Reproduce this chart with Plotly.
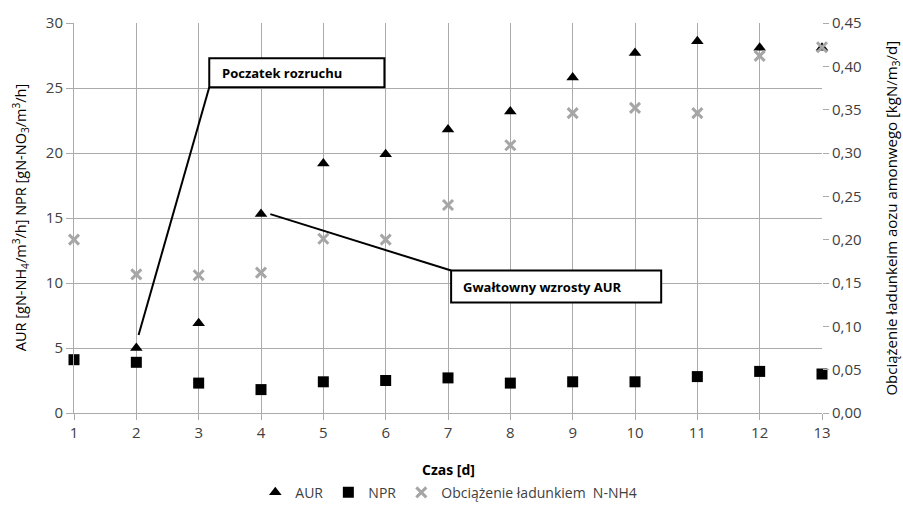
import plotly.graph_objects as go

# Dni pomiaru
dni = [1, 2, 3, 4, 5, 6, 7, 8, 9, 10, 11, 12, 13]
# AUR [gN-NH4/m3/h]
aur = [None, 5.0, 6.9, 15.3, 19.2, 19.9, 21.8, 23.2, 25.8, 27.7, 28.6, 28.1, 28.1]
# NPR [gN-NO3/m3/h]
npr = [4.1, 3.9, 2.3, 1.8, 2.4, 2.5, 2.7, 2.3, 2.4, 2.4, 2.8, 3.2, 3.0]
# Obciążenie ładunkiem N-NH4 [kgN/m3/d]
obciazenie = [0.200, 0.160, 0.159, 0.162, 0.201, 0.200, 0.240, 0.309, 0.346, 0.352, 0.346, 0.412, 0.422]

FONT = "Open Sans"
GRID = "#ababab"
TXT = "#404040"

fig = go.Figure()
fig.add_trace(go.Scatter(
    x=dni, y=aur, mode="markers", name="AUR", cliponaxis=False,
    marker=dict(symbol="triangle-up", size=11, color="black"),
))
fig.add_trace(go.Scatter(
    x=dni, y=npr, mode="markers", name="NPR", cliponaxis=False,
    marker=dict(symbol="square", size=11, color="black"),
))
fig.add_trace(go.Scatter(
    x=dni, y=obciazenie, mode="markers", name="Obciążenie ładunkiem  N-NH4",
    yaxis="y2", cliponaxis=False,
    marker=dict(symbol="x-thin", size=10, color="#a6a6a6",
                line=dict(color="#a6a6a6", width=3)),
))

fig.update_layout(
    width=903, height=508,
    margin=dict(l=74, r=81, t=18, b=95),
    paper_bgcolor="white", plot_bgcolor="white",
    separators=", ",
    font=dict(family=FONT, size=14, color=TXT),
    xaxis=dict(
        range=[1, 13], tickmode="array", tickvals=dni,
        showgrid=True, gridcolor=GRID, gridwidth=1,
        showline=True, linecolor=GRID, linewidth=1,
        ticks="outside", ticklen=6, tickcolor=GRID,
        zeroline=False, tickfont=dict(size=15, color=TXT),
    ),
    yaxis=dict(
        range=[0, 30], dtick=5, tickformat="d",
        showgrid=True, gridcolor=GRID, gridwidth=1,
        showline=True, linecolor=GRID,
        ticks="outside", ticklen=7, tickcolor=GRID,
        zeroline=False, tickfont=dict(size=15, color=TXT),
    ),
    yaxis2=dict(
        range=[0, 0.45], dtick=0.05, tickformat=".2f",
        overlaying="y", side="right", showgrid=False,
        ticks="outside", ticklen=6, tickcolor=GRID,
        zeroline=False, tickfont=dict(size=15, color=TXT),
    ),
    showlegend=True,
    legend=dict(
        orientation="h", xref="container", yref="container",
        x=0.497, xanchor="center", y=0.03, yanchor="middle",
        font=dict(size=14, color=TXT), itemwidth=30,
        traceorder="normal",
    ),
)

# Opisy osi
fig.add_annotation(
    xref="paper", yref="paper", x=-0.072, y=0.5, xanchor="center", yanchor="middle",
    textangle=-90, showarrow=False,
    text="AUR [gN-NH<sub>4</sub>/m<sup>3</sup>/h] NPR [gN-NO<sub>3</sub>/m<sup>3</sup>/h]",
    font=dict(size=14.5, color="black"),
)
fig.add_annotation(
    xref="paper", yref="paper", x=1.093, y=0.5, xanchor="center", yanchor="middle",
    textangle=-90, showarrow=False,
    text="Obciążenie ładunkeim aozu amonwego [kgN/m<sub>3</sub>/d]",
    font=dict(size=15, color="black"),
)
fig.add_annotation(
    xref="x", yref="paper", x=7.0, y=-0.145, xanchor="center", yanchor="middle",
    showarrow=False, text="<b>Czas [d]</b>",
    font=dict(size=14, color="black"),
)

# Objaśnienia z liniami odniesienia
LINE = dict(color="black", width=2)
fig.add_shape(type="line", xref="x", yref="y", x0=2.036, y0=6.0, x1=3.17, y1=25.06, line=LINE)
fig.add_shape(type="line", xref="x", yref="y", x0=4.15, y0=15.3, x1=7.05, y1=10.96, line=LINE)
fig.add_shape(type="rect", xref="x", yref="y", x0=3.17, y0=25.06, x1=5.98, y1=27.29,
              line=LINE, fillcolor="white")
fig.add_shape(type="rect", xref="x", yref="y", x0=7.05, y0=8.5, x1=10.42, y1=10.96,
              line=LINE, fillcolor="white")
fig.add_annotation(xref="x", yref="y", x=3.34, y=26.18, xanchor="left", yanchor="middle",
                   showarrow=False, text="<b>Poczatek rozruchu</b>",
                   font=dict(size=13, color="black"))
fig.add_annotation(xref="x", yref="y", x=7.21, y=9.73, xanchor="left", yanchor="middle",
                   showarrow=False, text="<b>Gwałtowny wzrosty AUR</b>",
                   font=dict(size=13, color="black"))

fig.write_html("out.html")
